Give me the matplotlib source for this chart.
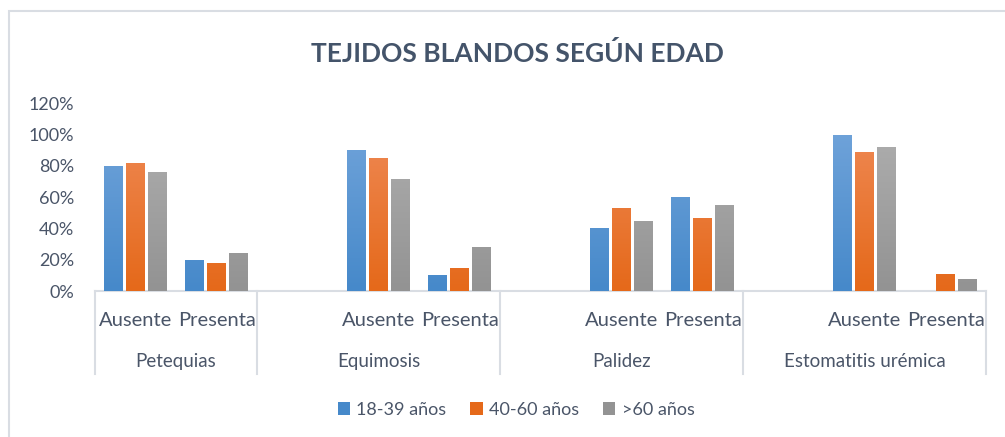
import matplotlib
matplotlib.use("Agg")
import matplotlib.pyplot as plt
import numpy as np
from matplotlib.colors import LinearSegmentedColormap
from matplotlib.patches import Rectangle

plt.rcParams['font.family'] = ['Lato', 'DejaVu Sans']

# data
groups = ['Petequias', 'Equimosis', 'Palidez', 'Estomatitis urémica']
sub_labels = ['Ausente', 'Presenta']
series_names = ['18-39 años', '40-60 años', '>60 años']
edad_18_39 = [0.80, 0.20, 0.90, 0.10, 0.40, 0.60, 1.00, 0.00]
edad_40_60 = [0.82, 0.18, 0.85, 0.15, 0.53, 0.47, 0.89, 0.11]
edad_60 = [0.76, 0.24, 0.72, 0.28, 0.45, 0.55, 0.92, 0.08]
yticks = [0, 0.2, 0.4, 0.6, 0.8, 1.0, 1.2]

# gradient colours (top, bottom)
grads = [('#76A7DC', '#4689CA'), ('#F08D5C', '#E5691A'), ('#B2B2B2', '#939393')]
text_col = '#4A5568'

# slot layout: first group has 2 slots, the others an empty slot + 2
slots = []
bounds = [0]
pos = 0
for g in range(len(groups)):
    if g > 0:
        pos += 1
    slots += [pos + 0.5, pos + 1.5]
    pos += 2
    bounds.append(pos)
n_slots = pos
slots = np.array(slots)

fig = plt.figure(figsize=(10.05, 4.37), dpi=100)
ax = fig.add_axes([95 / 1005, 1 - 291 / 437, 891 / 1005, 187.5 / 437])

series = [edad_18_39, edad_40_60, edad_60]
bw = 0.233
step = 0.273
for i, vals in enumerate(series):
    x = slots + (i - 1) * step
    bars = ax.bar(x, vals, width=bw, color=grads[i][1], zorder=2, label=series_names[i])
    cmap = LinearSegmentedColormap.from_list('g%d' % i, [grads[i][1], grads[i][0]])
    for b in bars:
        if b.get_height() <= 0:
            continue
        xb = b.get_x()
        im = ax.imshow(np.linspace(0, 1, 64).reshape(-1, 1), cmap=cmap, origin='lower',
                       extent=[xb, xb + b.get_width(), 0, 1.2], aspect='auto', zorder=3)
        im.set_clip_path(b)

ax.set_xlim(0, n_slots)
ax.set_ylim(0, 1.2)
ax.set_yticks(yticks)
ax.set_yticklabels(['%d%%' % round(v * 100) for v in yticks], fontsize=13, color=text_col)
ax.tick_params(axis='y', length=0, pad=15)
ax.set_xticks([])
for s in ['top', 'right', 'left']:
    ax.spines[s].set_visible(False)
ax.spines['bottom'].set_color('#D9DDE3')
ax.spines['bottom'].set_linewidth(1.5)

# multi-level category axis
trans = ax.get_xaxis_transform()
for b in bounds:
    ax.plot([b, b], [0, -0.44], transform=trans, color='#D9DDE3', lw=1.5, clip_on=False)
for k, xs in enumerate(slots):
    ax.text(xs, -0.16, sub_labels[k % 2], transform=trans, ha='center', va='center',
            fontsize=14.5, color=text_col)
for g in range(len(groups)):
    ax.text((bounds[g] + bounds[g + 1]) / 2, -0.375, groups[g], transform=trans,
            ha='center', va='center', fontsize=13.5, color=text_col)

fig.suptitle('TEJIDOS BLANDOS SEGÚN EDAD', x=0.515, y=1 - 53 / 437, va='center',
             fontsize=19, fontweight='bold', color='#44546A')

leg = fig.legend(loc='center', bbox_to_anchor=(516 / 1005, 1 - 410 / 437), ncol=3, frameon=False,
                 fontsize=13, handlelength=0.7, handleheight=0.7, handletextpad=0.35,
                 columnspacing=1.3, labelcolor=text_col)

# outer chart border
fig.patches.append(Rectangle((9 / 1005, -0.05), 1.1, 1 - 11 / 437 + 0.05, transform=fig.transFigure,
                             fill=False, edgecolor='#D9DDE3', lw=1.5))

fig.savefig('out.png', dpi=100)
